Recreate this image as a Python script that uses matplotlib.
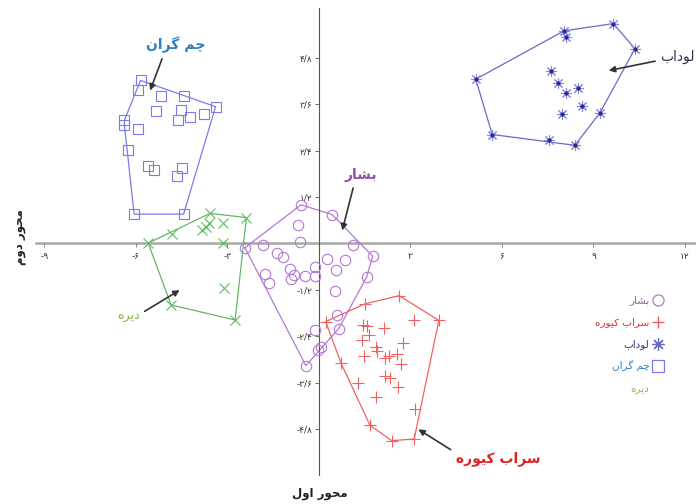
import numpy as np
import matplotlib
matplotlib.use("Agg")
import matplotlib.pyplot as plt
from matplotlib.lines import Line2D

# =============================================================================
# Data
# =============================================================================
beshar_x = [-0.59, 0.43, -0.68, -0.62, -2.43, -1.83, 1.10, 1.76, -1.37, -1.17,
            0.25, 0.85, -0.13, -0.95, 0.56, -1.77, -0.82, -0.92, -0.46, -0.12,
            1.56, -1.63, 0.53, 0.60, -0.12, 0.65, 0.06, -0.04, -0.43]
beshar_y = [1.00, 0.75, 0.47, 0.05, -0.11, -0.05, -0.03, -0.33, -0.25, -0.35,
            -0.41, -0.43, -0.60, -0.65, -0.69, -0.80, -0.82, -0.91, -0.83, -0.84,
            -0.87, -1.03, -1.22, -1.84, -2.25, -2.20, -2.69, -2.75, -3.16]

sarab_x = [2.63, 1.51, 3.93, 3.12, 0.22, 1.43, 1.56, 2.14, 1.65, 1.40,
           2.76, 1.87, 1.90, 2.56, 1.48, 2.30, 2.16, 0.72, 2.68, 2.16,
           2.33, 1.27, 2.60, 1.86, 3.15, 1.67, 3.12, 2.38]
sarab_y = [-1.35, -1.56, -1.99, -1.99, -2.02, -2.10, -2.14, -2.18, -2.38, -2.49,
           -2.57, -2.69, -2.78, -2.85, -2.90, -2.90, -2.96, -3.09, -3.13, -3.42,
           -3.48, -3.62, -3.72, -3.96, -4.28, -4.70, -5.06, -5.10]

loudab_x = [8.03, 8.09, 9.65, 10.36, 5.14, 7.62, 7.83, 8.10, 8.48, 8.62,
            7.98, 9.21, 5.68, 7.54, 8.39]
loudab_y = [5.50, 5.33, 5.69, 5.04, 4.25, 4.47, 4.15, 3.89, 4.03, 3.55,
            3.36, 3.38, 2.82, 2.67, 2.54]

cham_x = [-5.85, -5.92, -5.19, -4.42, -3.39, -5.33, -4.52, -4.63, -4.22, -3.77,
          -6.38, -6.38, -5.93, -6.25, -5.62, -5.41, -4.50, -4.65, -6.06, -4.44]
cham_y = [4.22, 3.96, 3.81, 3.81, 3.54, 3.43, 3.45, 3.20, 3.26, 3.34,
          3.19, 3.06, 2.95, 2.41, 2.01, 1.91, 1.96, 1.75, 0.76, 0.76]

dire_x = [-3.57, -2.38, -3.14, -3.62, -3.70, -3.83, -4.81, -5.60, -3.14, -3.11,
          -4.85, -2.75]
dire_y = [0.78, 0.67, 0.53, 0.53, 0.42, 0.35, 0.25, 0.01, 0.01, -1.15,
          -1.59, -1.98]

x_ticks = [-9, -6, -3, 3, 6, 9, 12]
x_tick_labels = ["-۹", "-۶", "-۳", "۳", "۶", "۹", "۱۲"]
y_ticks = [4.8, 3.6, 2.4, 1.2, -1.2, -2.4, -3.6, -4.8]
y_tick_labels = ["۴/۸", "۳/۶", "۲/۴", "۱/۲", "-۱/۲", "-۲/۴", "-۳/۶", "-۴/۸"]

# =============================================================================
# Minimal Persian shaping (matplotlib has no bidi / joining support)
# =============================================================================
FORMS = {
    "ا": ("\uFE8D", "\uFE8E"),
    "د": ("\uFEA9", "\uFEAA"),
    "ر": ("\uFEAD", "\uFEAE"),
    "و": ("\uFEED", "\uFEEE"),
    "ب": ("\uFE8F", "\uFE90", "\uFE91", "\uFE92"),
    "ل": ("\uFEDD", "\uFEDE", "\uFEDF", "\uFEE0"),
    "م": ("\uFEE1", "\uFEE2", "\uFEE3", "\uFEE4"),
    "ن": ("\uFEE5", "\uFEE6", "\uFEE7", "\uFEE8"),
    "ش": ("\uFEB5", "\uFEB6", "\uFEB7", "\uFEB8"),
    "س": ("\uFEB1", "\uFEB2", "\uFEB3", "\uFEB4"),
    "ح": ("\uFEA1", "\uFEA2", "\uFEA3", "\uFEA4"),
    "ه": ("\uFEE9", "\uFEEA", "\uFEEB", "\uFEEC"),
    "چ": ("\uFB7A", "\uFB7B", "\uFB7C", "\uFB7D"),
    "گ": ("\uFB92", "\uFB93", "\uFB94", "\uFB95"),
    "ک": ("\uFB8E", "\uFB8F", "\uFB90", "\uFB91"),
    "ی": ("\uFBFC", "\uFBFD", "\uFBFE", "\uFBFF"),
}


def fa(s):
    out = []
    for i, ch in enumerate(s):
        if ch not in FORMS:
            out.append(ch)
            continue
        f = FORMS[ch]
        prev = s[i - 1] if i > 0 else ""
        nxt = s[i + 1] if i + 1 < len(s) else ""
        jp = prev in FORMS and len(FORMS[prev]) == 4
        jn = len(f) == 4 and nxt in FORMS
        if jp and jn:
            out.append(f[3])
        elif jp:
            out.append(f[1])
        elif jn:
            out.append(f[2])
        else:
            out.append(f[0])
    return "".join(reversed(out))


def hull(xs, ys):
    # monotone chain convex hull, closed
    pts = sorted(set(zip(xs, ys)))

    def cross(o, a, b):
        return (a[0] - o[0]) * (b[1] - o[1]) - (a[1] - o[1]) * (b[0] - o[0])

    lower, upper = [], []
    for p in pts:
        while len(lower) >= 2 and cross(lower[-2], lower[-1], p) <= 0:
            lower.pop()
        lower.append(p)
    for p in reversed(pts):
        while len(upper) >= 2 and cross(upper[-2], upper[-1], p) <= 0:
            upper.pop()
        upper.append(p)
    h = lower[:-1] + upper[:-1]
    h.append(h[0])
    return [p[0] for p in h], [p[1] for p in h]


plt.rcParams["font.family"] = ["DejaVu Sans"]

fig = plt.figure(figsize=(6.96, 5.04), dpi=100)
ax = fig.add_axes([0, 0, 1, 1])
ax.set_xlim(-10.459, 12.361)
ax.set_ylim(-6.74, 6.30)

c_beshar = "#b378d4"
c_sarab = "#f26060"
c_loudab = "#6a6ac4"
c_cham = "#7a7af2"
c_dire = "#62b862"

groups = [
    (beshar_x, beshar_y, c_beshar),
    (sarab_x, sarab_y, c_sarab),
    (loudab_x, loudab_y, c_loudab),
    (cham_x, cham_y, c_cham),
    (dire_x, dire_y, c_dire),
]
for gx, gy, col in groups:
    hx, hy = hull(gx, gy)
    ax.plot(hx, hy, color=col, lw=0.9, zorder=2)

ax.plot(beshar_x, beshar_y, ls="", marker="o", ms=7.5, mfc="none", mec=c_beshar, mew=0.8, zorder=3)
ax.plot(sarab_x, sarab_y, ls="", marker="+", ms=8.5, mec=c_sarab, mew=0.8, zorder=3)
ax.plot(loudab_x, loudab_y, ls="", marker=(8, 2, 0), ms=8, mec="#8c8ce0", mew=0.8, zorder=3)
ax.plot(loudab_x, loudab_y, ls="", marker="o", ms=2.0, mfc="#2a2a8a", mec="#2a2a8a", zorder=4)
ax.plot(cham_x, cham_y, ls="", marker="s", ms=7.5, mfc="none", mec=c_cham, mew=0.8, zorder=3)
ax.plot(dire_x, dire_y, ls="", marker="x", ms=7.5, mec=c_dire, mew=0.8, zorder=3)

# axes through the origin
for side in ["top", "right"]:
    ax.spines[side].set_visible(False)
ax.spines["left"].set_position(("data", 0))
ax.spines["bottom"].set_position(("data", 0))
ax.spines["bottom"].set_bounds(-9.28, 12.361)
ax.spines["left"].set_bounds(-5.98, 6.09)
ax.spines["bottom"].set_color("#a8a8a8")
ax.spines["bottom"].set_linewidth(1.8)
ax.spines["left"].set_color("#555555")
ax.spines["left"].set_linewidth(0.8)
ax.spines["bottom"].set_zorder(1)

ax.set_xticks(x_ticks)
ax.set_xticklabels(x_tick_labels)
ax.set_yticks(y_ticks)
ax.set_yticklabels(y_tick_labels)
ax.tick_params(axis="x", direction="out", length=3, width=0.6, color="#777777",
               labelsize=6.5, labelcolor="#333333", pad=3)
ax.tick_params(axis="y", direction="out", length=3, width=0.6, color="#555555",
               labelsize=6.5, labelcolor="#333333", pad=2)

# group labels with arrows
arrow = dict(arrowstyle="-|>", color="#333333", lw=1.2, mutation_scale=9)
ax.annotate(fa("چم گران"), xy=(-5.57, 3.89), xytext=(-4.69, 5.13), color="#2a7fc0",
            fontsize=10, fontweight="bold", ha="center", va="center",
            arrowprops=dict(arrow, relpos=(0.3, 0.0)))
ax.annotate(fa("لوداب"), xy=(9.41, 4.46), xytext=(11.2, 4.82), color="#303050",
            fontsize=10, ha="left", va="center",
            arrowprops=dict(arrow, relpos=(0.0, 0.3)))
ax.annotate(fa("بشار"), xy=(0.74, 0.27), xytext=(1.38, 1.76), color="#9050b0",
            fontsize=10, fontweight="bold", ha="center", va="center",
            arrowprops=dict(arrow, relpos=(0.3, 0.0)))
ax.annotate(fa("سراب کیوره"), xy=(3.18, -4.77), xytext=(5.87, -5.57), color="#e02020",
            fontsize=10, fontweight="bold", ha="center", va="center",
            arrowprops=dict(arrow, relpos=(0.0, 0.9)))
ax.annotate(fa("دیره"), xy=(-4.49, -1.17), xytext=(-6.26, -1.87), color="#8ab83a",
            fontsize=9, ha="center", va="center",
            arrowprops=dict(arrow, relpos=(1.0, 0.6)))

# axis titles
fig.text(320 / 696, 1 - 494 / 504, fa("محور اول"), ha="center", va="center",
         fontsize=8.5, fontweight="bold", color="#222222")
fig.text(20 / 696, 1 - 237 / 504, fa("محور دوم"), ha="center", va="center",
         rotation=90, fontsize=8.5, fontweight="bold", color="#222222")

# legend
handles = [
    Line2D([], [], ls="", marker="o", ms=8, mfc="none", mec=c_beshar, mew=0.9),
    Line2D([], [], ls="", marker="+", ms=9, mec=c_sarab, mew=1.0),
    Line2D([], [], ls="", marker=(8, 2, 0), ms=9, mec=c_loudab, mew=0.9),
    Line2D([], [], ls="", marker="s", ms=9, mfc="none", mec=c_cham, mew=0.9),
    Line2D([], [], ls="", marker=""),
]
labels = [fa("بشار"), fa("سراب کیوره"), fa("لوداب"), fa("چم گران"), fa("دیره")]
ax.legend(handles, labels, loc="upper right", bbox_to_anchor=(668 / 696, 1 - 290 / 504),
          bbox_transform=fig.transFigure, frameon=False, markerfirst=False,
          fontsize=7.5, handlelength=1.0, handletextpad=0.3, labelspacing=1.15,
          borderpad=0, labelcolor=["#9060b0", "#e03030", "#303070", "#2a7fc0", "#8ab83a"])

fig.savefig("out.png", dpi=100)
